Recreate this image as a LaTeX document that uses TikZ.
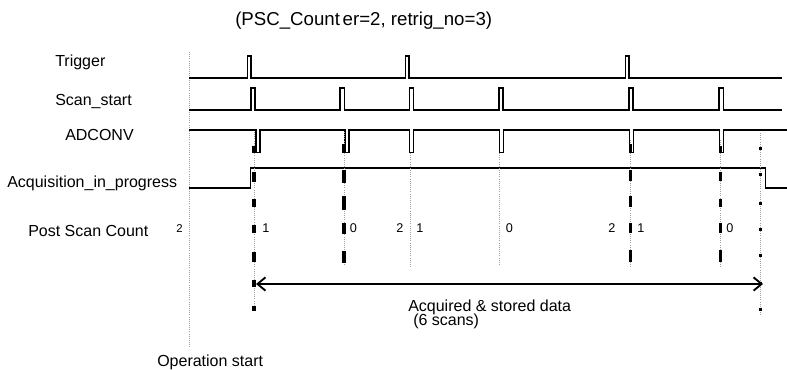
\documentclass[tikz,border=0pt]{standalone}
\usepackage{fontspec}
\setmainfont{Liberation Sans}
\usetikzlibrary{arrows.meta}
\begin{document}
\begin{tikzpicture}[x=0.75pt,y=-0.75pt,
  signal/.style={line width=1.3pt, line join=miter, line cap=butt},
  guide/.style={gray!75, line width=0.6pt, densely dotted},
  heavy/.style={line width=2.4pt, line cap=butt},
  lbl/.style={anchor=base west, inner sep=0pt, font=\fontsize{12}{14}\selectfont},
  num/.style={anchor=base west, inner sep=0pt, font=\fontsize{9.5}{11}\selectfont},
  span/.style={line width=1.4pt, {Straight Barb[length=6pt,width=10pt,line width=1.4pt]}-{Straight Barb[length=6pt,width=10pt,line width=1.4pt]}}]
\useasboundingbox (0,0) rectangle (787,370);

% heading
\node[anchor=base west, inner sep=0pt, font=\fontsize{14}{16}\selectfont] (title) at (235,26) {(PSC\_Count\kern2pt er=2, retrig\_no=3)};

% signal names
\node[lbl] (ltrig) at (55,67) {Trigger};
\node[lbl] (lscan) at (55,106) {Scan\_start};
\node[lbl] (ladc)  at (65,141) {ADCONV};
\node[lbl] (lacq)  at (7,188) {Acquisition\_in\_progress};
\node[lbl] (lpsc)  at (28,236.5) {Post Scan Count};

% operation start reference line
\draw[guide] (189,52) -- (189,348);
\node[lbl] (lop) at (157,366.5) {Operation start};

% Trigger
\draw[signal] (189,78) -- (247.5,78) -- (247.5,56) -- (251,56) -- (251,78)
  -- (405.5,78) -- (405.5,56) -- (409,56) -- (409,78)
  -- (625.5,78) -- (625.5,56) -- (629,56) -- (629,78) -- (782,78);

% Scan_start
\draw[signal] (189,110) -- (251,110) -- (251,88) -- (255,88) -- (255,110)
  -- (340,110) -- (340,88) -- (344.5,88) -- (344.5,110)
  -- (409.5,110) -- (409.5,88) -- (413.5,88) -- (413.5,110)
  -- (499,110) -- (499,88) -- (503,88) -- (503,110)
  -- (629,110) -- (629,88) -- (633,88) -- (633,110)
  -- (719,110) -- (719,88) -- (723.5,88) -- (723.5,110) -- (782,110);

% ADCONV
\draw[signal] (189,130) -- (256,130) -- (256,152.5) -- (260,152.5) -- (260,130)
  -- (345,130) -- (345,152.5) -- (349,152.5) -- (349,130)
  -- (409.5,130) -- (409.5,152.5) -- (413.5,152.5) -- (413.5,130)
  -- (499.5,130) -- (499.5,152.5) -- (503.5,152.5) -- (503.5,130)
  -- (629.5,130) -- (629.5,152.5) -- (633.5,152.5) -- (633.5,130)
  -- (719.5,130) -- (719.5,152.5) -- (723.5,152.5) -- (723.5,130) -- (787,130);

% Acquisition_in_progress
\draw[signal] (189,188) -- (250.5,188) -- (250.5,168) -- (765.5,168)
  -- (765.5,188) -- (787,188);

% scan markers: thin guides
\draw[guide] (254,132) -- (254,311);
\draw[guide] (344,132) -- (344,266);
\draw[guide] (410,153) -- (410,267);
\draw[guide] (499.5,153) -- (499.5,266);
\draw[guide] (630.5,140) -- (630.5,266);
\draw[guide] (720.5,140) -- (720.5,266);
\draw[guide] (760.5,133) -- (760.5,315);

% scan markers: heavy dashes
\foreach \a/\b in {146/153,172/182,199/207,225/233,252/262,280/287,306/311}
  \draw[heavy] (254,\a) -- (254,\b);
\foreach \a/\b in {144/153,170/183,196/210,223/234,251/263}
  \draw[heavy] (344,\a) -- (344,\b);
\foreach \a/\b in {144/153,170/181,196/207,223/233,250/262}
  \draw[heavy] (630.5,\a) -- (630.5,\b);
\foreach \a/\b in {146/153,172/181,199/207,223/233,250/262}
  \draw[heavy] (720.5,\a) -- (720.5,\b);
\foreach \c in {149,175,203,229,255,283,309}
  \draw[heavy] (760.5,\c-1.5) -- (760.5,\c+1.5);

% post scan count values
\node[num, font=\fontsize{8.5}{10}\selectfont] (p0) at (176,232) {2};
\node[num] (p1) at (262,232) {1};
\node[num] (p2) at (349.5,232) {0};
\node[num] (p3) at (396,232) {2};
\node[num] (p4) at (416,232) {1};
\node[num] (p5) at (505.5,232) {0};
\node[num] (p6) at (608,232) {2};
\node[num] (p7) at (637,232) {1};
\node[num] (p8) at (726,232) {0};

% acquired span
\coordinate (spanL) at (256,284);
\coordinate (spanR) at (763,284);
\draw[span] (spanL) -- (spanR);
\node[lbl] (lacqd) at (408,311) {Acquired \& stored data};
\node[lbl] (lscans) at (413,325) {(6 scans)};
\end{tikzpicture}
\end{document}
